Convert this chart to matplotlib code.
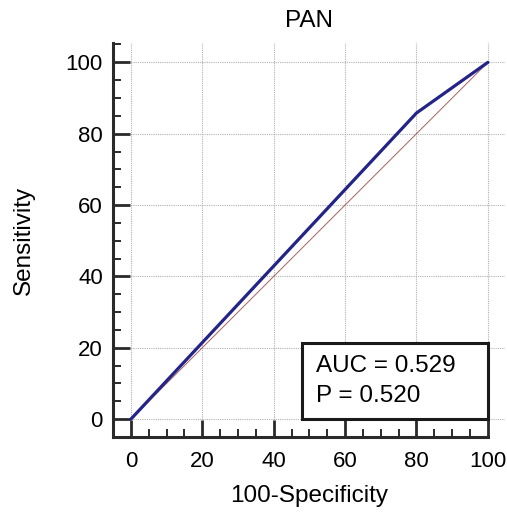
import matplotlib
matplotlib.use("Agg")
import matplotlib.pyplot as plt
from matplotlib.patches import Rectangle
from matplotlib.ticker import MultipleLocator

plt.rcParams['font.family'] = ['Liberation Sans', 'DejaVu Sans']

title = "PAN"
fpr = [0, 80, 100]
tpr = [0, 85.8, 100]
auc_text = "AUC = 0.529"
p_text = "P = 0.520"

fig = plt.figure(figsize=(5.07, 5.14), dpi=100)
ax = fig.add_axes([0.2223, 0.1492, 0.7738, 0.7677])

ax.set_xlim(-5.1, 104.8)
ax.set_ylim(-5.1, 105.5)

ax.grid(True, which='major', linestyle=(0, (1, 1)), color='#b0b0b0', linewidth=0.8)
ax.set_axisbelow(True)

ax.plot([0, 100], [0, 100], color='#a86060', linewidth=0.7, zorder=2)
ax.plot(fpr, tpr, color='#232388', linewidth=2.3, zorder=3, solid_capstyle='round')

for s in ['top', 'right']:
    ax.spines[s].set_visible(False)
for s in ['left', 'bottom']:
    ax.spines[s].set_linewidth(2.2)
    ax.spines[s].set_color('#2a2a2a')
ax.spines['bottom'].set_bounds(-5.1, 100)

ax.xaxis.set_minor_locator(MultipleLocator(5))
ax.yaxis.set_minor_locator(MultipleLocator(5))
ax.set_xticks([0, 20, 40, 60, 80, 100])
ax.set_yticks([0, 20, 40, 60, 80, 100])
ax.tick_params(which='major', direction='in', length=12.2, width=2.0, color='#2a2a2a',
               labelsize=16)
ax.tick_params(which='minor', direction='in', length=5.8, width=1.4, color='#2a2a2a')
ax.tick_params(axis='x', which='major', pad=10)
ax.tick_params(axis='y', which='major', pad=7)

ax.set_xlabel("100-Specificity", fontsize=17.5, labelpad=9)
ax.set_ylabel("Sensitivity", fontsize=17.5, labelpad=22)
ax.set_title(title, fontsize=17.5, pad=11)

ax.add_patch(Rectangle((47.9, 0), 52.1, 21.2, fill=True, facecolor='white',
                       edgecolor='#1a1a1a', linewidth=2.2, zorder=4))
ax.text(51.9, 15.0, auc_text, fontsize=17.5, va='center', ha='left', zorder=5)
ax.text(51.9, 6.6, p_text, fontsize=17.5, va='center', ha='left', zorder=5)

fig.savefig("out.png", dpi=100)
